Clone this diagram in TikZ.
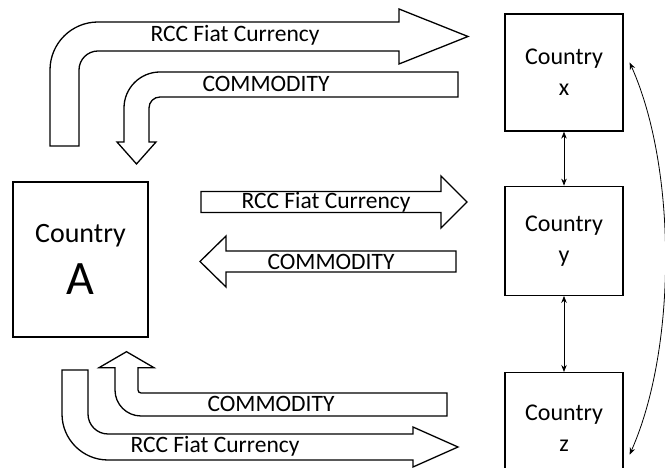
\documentclass[tikz,border=0pt]{standalone}
\usepackage{fontspec}
\setmainfont{Carlito}
\usetikzlibrary{positioning,arrows.meta}

\begin{document}
\begin{tikzpicture}[x=1pt, y=1pt,
  box/.style={rectangle, draw, line width=1.3pt, minimum width=118pt, align=center, font=\fontsize{24}{31}\selectfont},
  fat/.style={draw, line width=1.3pt, fill=white},
  lbl/.style={font=\fontsize{23.5}{28}\selectfont, inner sep=0pt},
  link/.style={<->, line width=0.8pt, >={Stealth[length=7pt,width=5.5pt]}}]
\useasboundingbox (0,0) rectangle (665,468);
\clip (0,0) rectangle (665,468);

\node (A) [box, minimum width=135pt, minimum height=155pt] at (80.5,208.5) {\fontsize{28}{34}\selectfont Country\\[15pt]\fontsize{48}{50}\selectfont A};
\node (x) [box, minimum height=117pt] at (564,395.5) {Country\\x};
\node (y) [box, minimum height=109pt, below=54pt of x] {Country\\y};
\node (z) [box, minimum height=112pt, below=76pt of y] {Country\\z};

\draw [fat] (50,322) -- (50,398) arc[start angle=180, end angle=90, radius=48] -- (399,446) -- (399,459) -- (468,431.5) -- (399,404) -- (399,417) -- (98,417) arc[start angle=90, end angle=180, radius=19] -- (79,322) -- cycle;
\draw [fat] (458,396) -- (160,396) arc[start angle=90, end angle=180, radius=36] -- (124,326) -- (117,326) -- (136.5,304) -- (156,326) -- (149,326) -- (149,360) arc[start angle=180, end angle=90, radius=11] -- (458,371) -- cycle;
\draw [fat] (201,255.5) -- (441,255.5) -- (441,240) -- (467,266) -- (441,292) -- (441,276.5) -- (201,276.5) -- cycle;
\draw [fat] (456,217) -- (226,217) -- (226,232) -- (200,206.5) -- (226,181) -- (226,196) -- (456,196) -- cycle;
\draw [fat] (447,75) -- (141,75) arc[start angle=270, end angle=180, radius=3] -- (138,100.3) -- (154,100.3) -- (126.5,116.3) -- (99,100.3) -- (115,100.3) -- (115,78) arc[start angle=180, end angle=270, radius=26] -- (447,52) -- cycle;
\draw [fat] (62,98) -- (62,54) arc[start angle=180, end angle=270, radius=46] -- (413,8) -- (413,1) -- (458,21) -- (413,41) -- (413,34) -- (108,34) arc[start angle=270, end angle=180, radius=20] -- (88,98) -- cycle;

\node (fiat1) [lbl] at (235,433) {RCC Fiat Currency};
\node (comm1) [lbl] at (266,384) {COMMODITY};
\node (fiat2) [lbl] at (326,266) {RCC Fiat Currency};
\node (comm2) [lbl] at (331,206) {COMMODITY};
\node (comm3) [lbl] at (271,64) {COMMODITY};
\node (fiat3) [lbl] at (215,22) {RCC Fiat Currency};

\draw [link] (x) -- (y);
\draw [link] (y) -- (z);
\draw [link] ([shift={(6,10)}]x.east) .. controls (677,300) and (677,120) .. ([shift={(6,-26)}]z.east);
\end{tikzpicture}
\end{document}
